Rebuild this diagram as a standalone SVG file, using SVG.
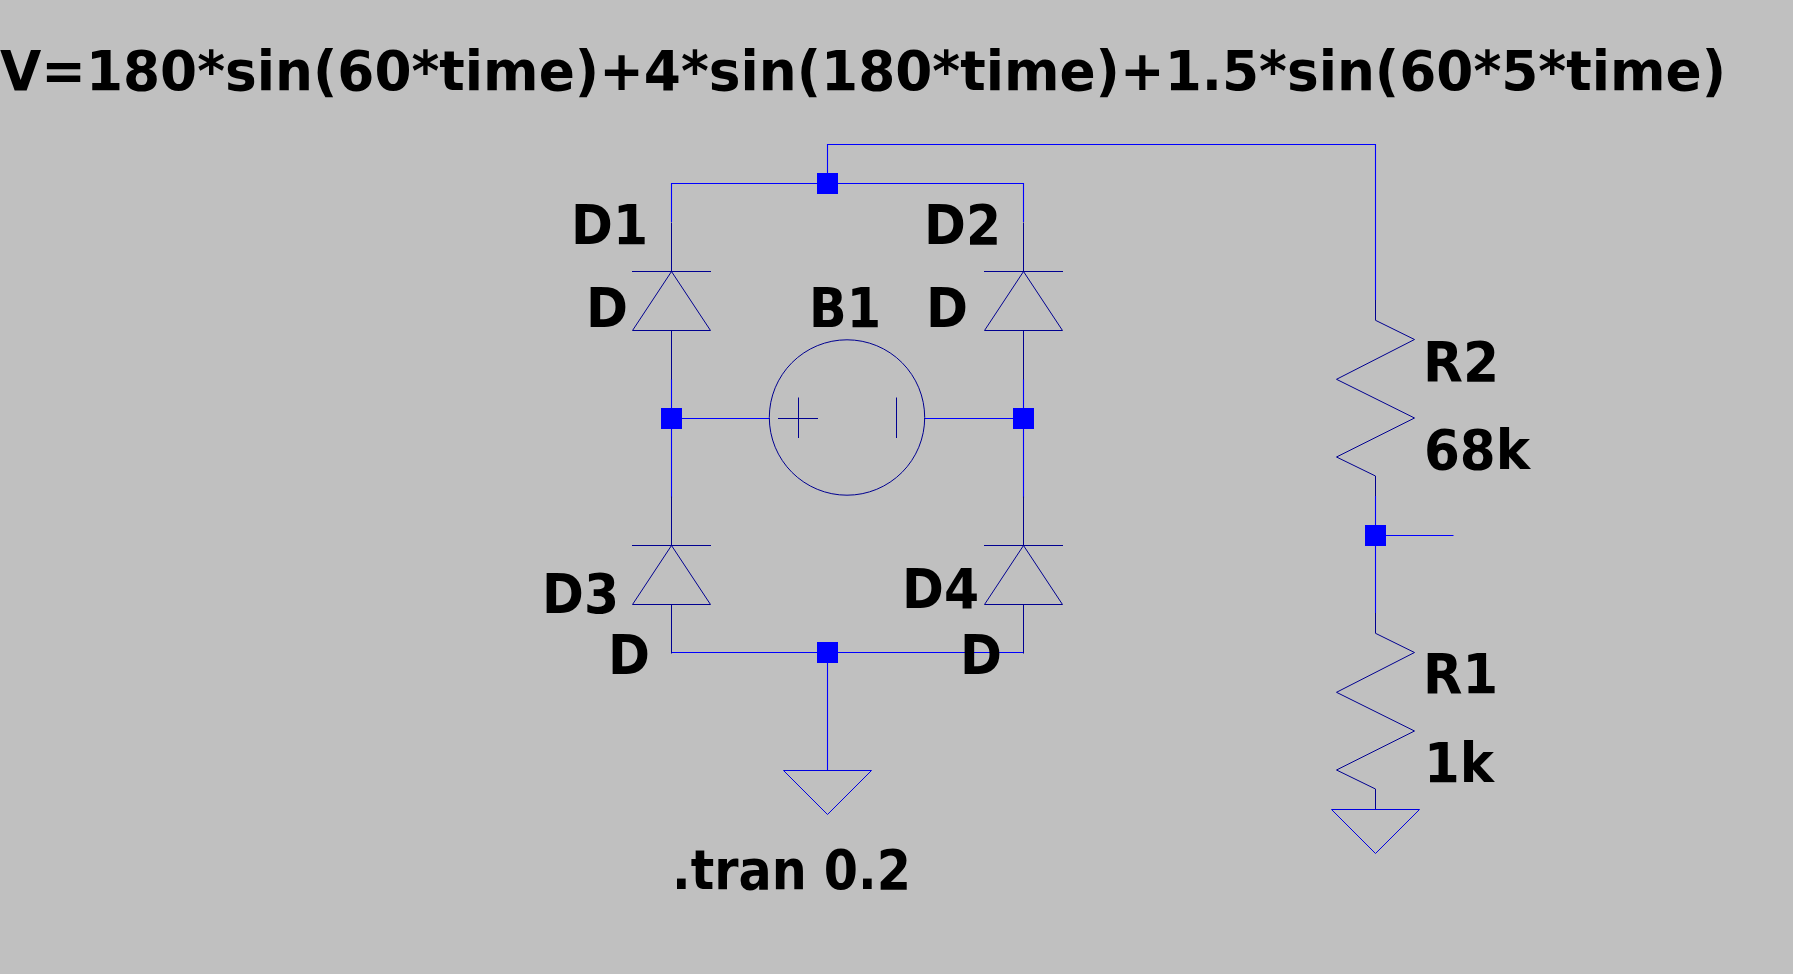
<svg xmlns="http://www.w3.org/2000/svg" width="1793" height="974" viewBox="0 0 1793 974">
<defs>
<style>
.wire{fill:none;stroke:#0000ff;stroke-width:1.1}
.sym{fill:none;stroke:#000090;stroke-width:1}
.gnd{fill:none;stroke:#0000e0;stroke-width:1}
.junction{fill:#0000ff;stroke:none}
text{font-family:"DejaVu Sans Condensed","DejaVu Sans",sans-serif;font-weight:700;font-size:56px;fill:#000}
</style>
<g id="diode-shape"><path class="sym" d="M0 -49V0M-39.5 0H39.5M0 0L-39 59H39ZM0 59V108"/></g>
<g id="res-shape"><path class="sym" d="M0 0V20.300L39 39.500L-39 79.300L39 118L-39 157L0 176V196"/></g>
<rect id="dot" class="junction" x="-10.500" y="-10.500" width="21" height="21"/>
</defs>
<rect id="background" width="1793" height="974" fill="#c0c0c0"/>
<g id="connectors">
<path class="wire" d="M827.500 183.500V144.500H1375.500V300"/>
<path class="wire" d="M671.500 222V183.500H1023.500V222"/>
<path class="wire" d="M671.500 379V498"/>
<path class="wire" d="M1023.500 379V498"/>
<path class="wire" d="M671.500 418.500H769.500"/>
<path class="wire" d="M924.500 418.500H1023.500"/>
<path class="wire" d="M671.500 652.500V652.500H1023.500"/>
<path class="wire" d="M827.500 652.500V770.500"/>
<path class="wire" d="M1375.500 496V613"/>
<path class="wire" d="M1375.500 535.500H1453.500"/>
</g>
<g id="D1"><use href="#diode-shape" x="671.500" y="271.500"/><text x="571" y="244" textLength="77" lengthAdjust="spacingAndGlyphs">D1</text><text x="586" y="326.700" textLength="42" lengthAdjust="spacingAndGlyphs">D</text></g>
<g id="D2"><use href="#diode-shape" x="1023.500" y="271.500"/><text x="924" y="244" textLength="77" lengthAdjust="spacingAndGlyphs">D2</text><text x="926" y="326.700" textLength="42" lengthAdjust="spacingAndGlyphs">D</text></g>
<g id="D3"><use href="#diode-shape" x="671.500" y="545.500"/><path class="sym" d="M671.500 653V653"/><text x="542" y="612.700" textLength="77" lengthAdjust="spacingAndGlyphs">D3</text><text x="608" y="674" textLength="42" lengthAdjust="spacingAndGlyphs">D</text></g>
<g id="D4"><use href="#diode-shape" x="1023.500" y="545.500"/><text x="902" y="608" textLength="77" lengthAdjust="spacingAndGlyphs">D4</text><text x="960" y="674" textLength="42" lengthAdjust="spacingAndGlyphs">D</text></g>
<g id="B1">
<circle class="sym" cx="847" cy="417.500" r="77.700"/>
<path class="sym" d="M778 418.500H818M798.500 397.500V438M896.500 397.500V438"/>
<text x="809" y="326.700" textLength="72" lengthAdjust="spacingAndGlyphs">B1</text>
</g>
<g id="R2"><use href="#res-shape" x="1375.500" y="300"/><text x="1423" y="381" textLength="76" lengthAdjust="spacingAndGlyphs">R2</text><text x="1424" y="469.300" textLength="106" lengthAdjust="spacingAndGlyphs">68k</text></g>
<g id="R1"><use href="#res-shape" x="1375.500" y="613"/><text x="1423" y="693.300" textLength="75" lengthAdjust="spacingAndGlyphs">R1</text><text x="1424" y="781.700" textLength="70" lengthAdjust="spacingAndGlyphs">1k</text></g>
<g id="GND1"><path class="gnd" d="M783.500 770.500H871.500L827.500 814.500Z"/></g>
<g id="GND2"><path class="wire" d="M1375.500 809.500V809.500"/><path class="gnd" d="M1331.500 809.500H1419.500L1375.500 853.500Z"/></g>
<g id="J1"><use href="#dot" x="827.500" y="183.500"/></g>
<g id="J2"><use href="#dot" x="671.500" y="418.500"/></g>
<g id="J3"><use href="#dot" x="1023.500" y="418.500"/></g>
<g id="J4"><use href="#dot" x="827.500" y="652.500"/></g>
<g id="J5"><use href="#dot" x="1375.500" y="535.500"/></g>
<g id="title"><text x="0" y="90" textLength="1726" lengthAdjust="spacingAndGlyphs">V=180*sin(60*time)+4*sin(180*time)+1.5*sin(60*5*time)</text></g>
<g id="directive"><text x="672" y="888.700" textLength="239" lengthAdjust="spacingAndGlyphs">.tran 0.2</text></g>
</svg>
